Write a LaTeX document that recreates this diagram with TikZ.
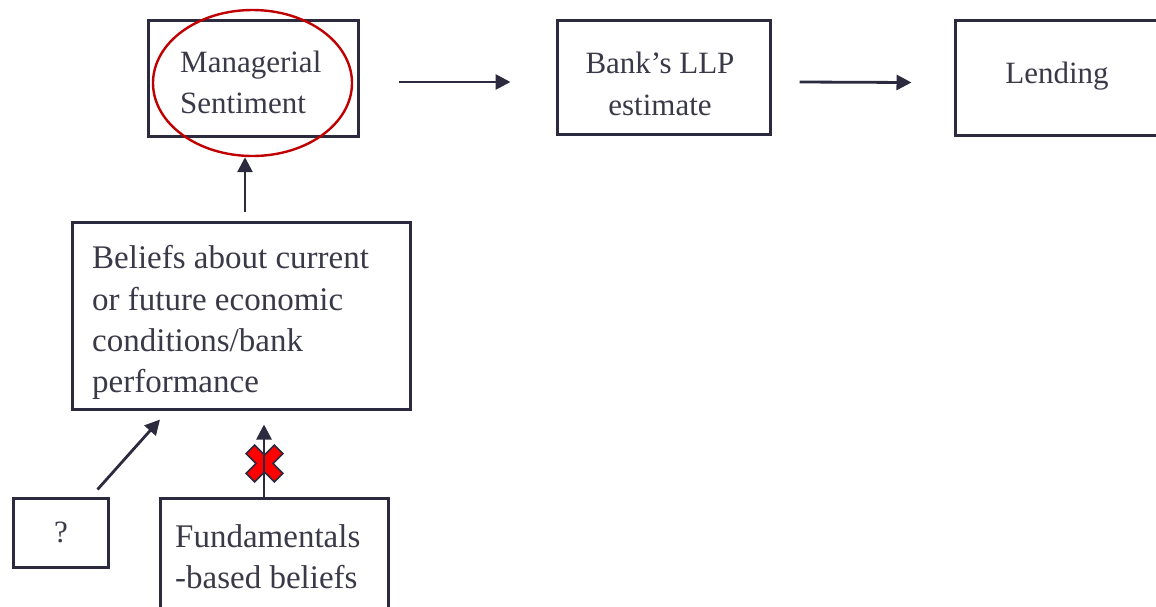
\documentclass[tikz,border=0pt]{standalone}
\usepackage{fontspec}
\setmainfont{Liberation Serif}
\usetikzlibrary{arrows.meta,shapes.geometric}
\definecolor{ink}{HTML}{2B2A3E}
\definecolor{txt}{HTML}{3A3948}
\definecolor{ring}{HTML}{C00000}
\begin{document}
\begin{tikzpicture}[x=1pt,y=-1pt,
  box/.style={draw=ink,line width=3pt,rectangle,inner sep=0pt},
  lbl/.style={text=txt,inner sep=0pt,align=left,font=\fontsize{31}{41.5}\selectfont},
  lblb/.style={text=txt,inner sep=0pt,align=left,font=\fontsize{33}{41.5}\selectfont},
  arr/.style={draw=ink,line width=2.8pt,-{Triangle[length=15pt,width=15pt]}}]
\useasboundingbox (0,0) rectangle (1156,606);
\clip (0,0) rectangle (1156,606);

% boxes
\node[box,minimum width=210pt,minimum height=116pt] (ms) at (253,78) {};
\node[box,minimum width=213pt,minimum height=114pt] (bk) at (663.5,77) {};
\node[box,minimum width=210pt,minimum height=115pt] (ld) at (1060,77.5) {};
\node[box,minimum width=338pt,minimum height=187pt] (bl) at (241,315.5) {};
\node[box,minimum width=95pt,minimum height=69pt] (qm) at (60.5,532.5) {};
\node[box,minimum width=228pt,minimum height=122pt] (fb) at (274,559) {};

% texts
\node[lbl,anchor=base west] (t1) at (180,72) {Managerial};
\node[lbl,anchor=base west] (t2) at (180,113) {Sentiment};
\node[lbl,anchor=base] (t3) at (660,73) {Bank’s LLP};
\node[lbl,anchor=base] (t4) at (660,115) {estimate};
\node[lbl,anchor=base] (t5) at (1057,83) {Lending};
\node[lblb,anchor=base west] (t6) at (92,268) {Beliefs about current};
\node[lblb,anchor=base west] (t7) at (92,310) {or future economic};
\node[lblb,anchor=base west] (t8) at (92,351) {conditions/bank};
\node[lblb,anchor=base west] (t9) at (92,392) {performance};
\node[lbl,anchor=base] (t10) at (61,542) {?};
\node[lblb,anchor=base west] (t11) at (175,547) {Fundamentals};
\node[lblb,anchor=base west] (t12) at (175,588) {-based beliefs};

% highlight ring
\node[draw=ring,line width=2.4pt,ellipse,inner sep=0pt,
      minimum width=199pt,minimum height=146pt] (el) at (252.5,83) {};

% connectors
\draw[arr] ([xshift=39pt,yshift=-4pt]ms.east) -- ([xshift=-45pt,yshift=-5pt]bk.west);
\draw[arr] ([xshift=28pt,yshift=-5pt]bk.east) -- ([xshift=-42pt,yshift=-5pt]ld.west);
\draw[arr] ([xshift=4pt,yshift=9pt]bl.north) coordinate (s1) -- (s1 |- el.south);
\draw[arr] ([xshift=-12pt,yshift=7pt]qm.north east) -- ([xshift=-81pt,yshift=-9pt]bl.south);

% crossed-out link
\begin{scope}[shift={(264.5,463.5)},rotate=45]
  \draw[draw=ink,fill=red,line width=1.6pt]
    (-6,-20) -- (6,-20) -- (6,-6) -- (20,-6) -- (20,6) -- (6,6) -- (6,20)
    -- (-6,20) -- (-6,6) -- (-20,6) -- (-20,-6) -- (-6,-6) -- cycle;
\end{scope}
\draw[arr] ([xshift=-10pt]fb.north) -- ([xshift=23pt,yshift=-14pt]bl.south);
\end{tikzpicture}
\end{document}
